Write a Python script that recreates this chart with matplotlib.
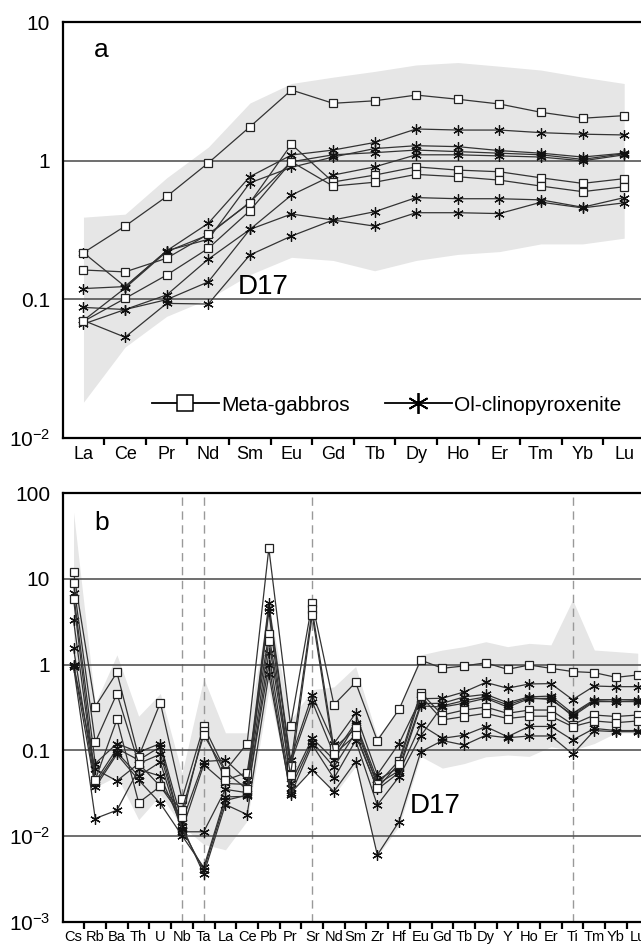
import matplotlib
matplotlib.use('Agg')
import matplotlib.pyplot as plt
import numpy as np

plt.rcParams['font.family'] = ['Liberation Sans', 'DejaVu Sans']
plt.rcParams['mathtext.fontset'] = 'custom'
plt.rcParams['mathtext.rm'] = 'Liberation Sans'
plt.rcParams['mathtext.it'] = 'Liberation Sans:italic'

# ---- panel a: REE ----
ree = ['La', 'Ce', 'Pr', 'Nd', 'Sm', 'Eu', 'Gd', 'Tb', 'Dy', 'Ho', 'Er', 'Tm', 'Yb', 'Lu']

ree_gabbro = [
  [0.216, 0.336, 0.55, 0.96, 1.75, 3.23, 2.59, 2.70, 2.97, 2.77, 2.56, 2.23, 2.02, 2.11],
  [0.162, 0.157, 0.197, 0.294, 0.495, 1.31, 0.70, 0.785, 0.90, 0.853, 0.83, 0.75, 0.684, 0.74],
  [0.069, 0.101, 0.149, 0.232, 0.434, 0.98, 0.654, 0.697, 0.794, 0.764, 0.722, 0.654, 0.596, 0.647],
]
ree_pyrox = [
  [0.216, 0.123, 0.223, 0.352, 0.765, 1.096, 1.19, 1.35, 1.69, 1.66, 1.66, 1.59, 1.55, 1.53],
  [0.119, 0.123, 0.223, 0.27, 0.69, 0.893, 1.06, 1.22, 1.28, 1.26, 1.18, 1.13, 1.06, 1.13],
  [0.07, 0.12, 0.22, 0.29, 0.50, 0.98, 1.10, 1.14, 1.19, 1.16, 1.13, 1.10, 1.02, 1.12],
  [0.087, 0.084, 0.107, 0.194, 0.318, 0.563, 0.785, 0.90, 1.10, 1.10, 1.08, 1.06, 0.995, 1.10],
  [0.066, 0.084, 0.099, 0.133, 0.318, 0.411, 0.372, 0.336, 0.42, 0.42, 0.414, 0.50, 0.455, 0.495],
  [0.07, 0.053, 0.093, 0.092, 0.208, 0.285, 0.372, 0.427, 0.54, 0.53, 0.53, 0.52, 0.46, 0.54],
]
ree_d17_low = [0.018, 0.045, 0.075, 0.10, 0.15, 0.20, 0.19, 0.16, 0.19, 0.21, 0.22, 0.25, 0.25, 0.275]
ree_d17_high = [0.39, 0.41, 0.75, 1.25, 2.6, 3.6, 4.0, 4.4, 4.9, 5.1, 4.8, 4.5, 4.0, 3.6]

# ---- panel b: spider ----
spider = ['Cs', 'Rb', 'Ba', 'Th', 'U', 'Nb', 'Ta', 'La', 'Ce', 'Pb', 'Pr', 'Sr', 'Nd', 'Sm',
          'Zr', 'Hf', 'Eu', 'Gd', 'Tb', 'Dy', 'Y', 'Ho', 'Er', 'Ti', 'Tm', 'Yb', 'Lu']

sp_gabbro = [
  [12, 0.324, 0.81, 0.084, 0.36, 0.027, 0.192, 0.058, 0.12, 22.8, 0.194, 5.3, 0.34, 0.62,
   0.13, 0.30, 1.13, 0.906, 0.965, 1.05, 0.88, 0.99, 0.905, 0.83, 0.806, 0.71, 0.757],
  [8.9, 0.124, 0.46, 0.07, 0.038, 0.0167, 0.17, 0.045, 0.055, 2.27, 0.066, 4.4, 0.105, 0.18,
   0.04, 0.076, 0.47, 0.258, 0.295, 0.32, 0.27, 0.295, 0.295, 0.20, 0.258, 0.248, 0.258],
  [5.9, 0.045, 0.23, 0.0245, 0.038, 0.02, 0.151, 0.056, 0.035, 1.87, 0.0515, 3.8, 0.09, 0.15,
   0.036, 0.07, 0.43, 0.226, 0.248, 0.27, 0.235, 0.25, 0.25, 0.189, 0.22, 0.21, 0.22],
]
sp_pyrox = [
  [6.8, 0.070, 0.12, 0.095, 0.12, 0.0147, 0.074, 0.077, 0.045, 5.2, 0.078, 0.44, 0.12, 0.27,
   0.052, 0.12, 0.40, 0.405, 0.48, 0.62, 0.53, 0.595, 0.60, 0.39, 0.563, 0.553, 0.553],
  [3.3, 0.043, 0.105, 0.077, 0.11, 0.0117, 0.068, 0.041, 0.040, 4.6, 0.070, 0.37, 0.09, 0.21,
   0.045, 0.063, 0.35, 0.354, 0.42, 0.45, 0.36, 0.42, 0.43, 0.27, 0.39, 0.39, 0.39],
  [1.55, 0.040, 0.095, 0.050, 0.073, 0.0112, 0.0112, 0.035, 0.032, 4.2, 0.041, 0.138, 0.078, 0.20,
   0.040, 0.058, 0.33, 0.32, 0.354, 0.405, 0.32, 0.40, 0.405, 0.25, 0.37, 0.37, 0.38],
  [1.0, 0.037, 0.090, 0.045, 0.024, 0.0101, 0.0043, 0.0286, 0.029, 1.36, 0.036, 0.125, 0.064, 0.16,
   0.035, 0.055, 0.198, 0.138, 0.15, 0.189, 0.144, 0.19, 0.19, 0.132, 0.18, 0.17, 0.17],
  [0.95, 0.016, 0.020, 0.060, 0.05, 0.013, 0.0036, 0.0233, 0.0178, 0.77, 0.0315, 0.059, 0.033, 0.074,
   0.006, 0.0147, 0.096, 0.13, 0.115, 0.15, 0.14, 0.147, 0.147, 0.0906, 0.17, 0.165, 0.165],
  [1.0, 0.06, 0.044, 0.07, 0.09, 0.012, 0.004, 0.026, 0.03, 1.0, 0.03, 0.116, 0.047, 0.13,
   0.023, 0.049, 0.147, 0.33, 0.38, 0.42, 0.34, 0.41, 0.39, 0.26, 0.38, 0.37, 0.37],
]
sp_d17_low = [1.0, 0.037, 0.05, 0.0155, 0.03, 0.013, 0.008, 0.0069, 0.015, 0.5, 0.032, 0.065, 0.03, 0.065,
              0.0058, 0.013, 0.085, 0.062, 0.07, 0.084, 0.088, 0.085, 0.11, 0.10, 0.12, 0.16, 0.16]
sp_d17_high = [60, 0.35, 1.3, 0.25, 0.46, 0.054, 0.69, 0.16, 0.16, 5.0, 0.226, 0.51, 0.55, 0.95,
               0.144, 0.3, 1.3, 1.48, 1.62, 1.85, 1.62, 1.77, 1.7, 5.7, 1.48, 1.42, 1.36]
dashed_at = ['Nb', 'Ta', 'Sr', 'Ti']

line_col = '#333333'
sq_kw = dict(marker='s', ms=6, mfc='white', mec='#222222', mew=0.9, color=line_col, lw=0.9)
st_kw = dict(marker=(6, 2, 0), ms=7.5, mec='#111111', mew=0.9, color=line_col, lw=0.9)

fig = plt.figure(figsize=(6.41, 9.46), dpi=100)
ax1 = fig.add_axes([0.0978, 0.5375, 0.9084, 0.4392])
ax2 = fig.add_axes([0.0978, 0.0257, 0.914, 0.4529])


def style_axes(ax, names, ylim, yt, ylab, xfs):
  n = len(names)
  x = np.arange(n)
  ax.set_yscale('log')
  ax.set_ylim(*ylim)
  ax.set_xlim(-0.5, n - 0.5)
  ax.set_yticks(yt)
  ax.set_yticklabels(ylab, fontsize=15)
  ax.yaxis.set_minor_locator(matplotlib.ticker.NullLocator())
  ax.tick_params(axis='y', length=0, pad=9)
  ax.set_xticks(x)
  ax.set_xticklabels(names, fontsize=xfs)
  ax.set_xticks(x[:-1] + 0.5, minor=True)
  ax.tick_params(axis='x', which='major', length=0, pad=6)
  ax.tick_params(axis='x', which='minor', length=5, width=1.6, direction='out')
  for s in ['left', 'bottom', 'top']:
    ax.spines[s].set_linewidth(1.6)
  ax.spines['right'].set_visible(False)
  for v in yt[1:-1]:
    ax.axhline(v, color='#555555', lw=1.2, zorder=1)


# panel a
x1 = np.arange(len(ree))
style_axes(ax1, ree, (0.01, 10), [0.01, 0.1, 1, 10], ['10$^{-2}$', '0.1', '1', '10'], 13)
ax1.fill_between(x1, ree_d17_low, ree_d17_high, color='#e6e6e6', lw=0, zorder=0)
for s in ree_pyrox:
  ax1.plot(x1, s, zorder=3, **st_kw)
for s in ree_gabbro:
  ax1.plot(x1, s, zorder=4, **sq_kw)
ax1.text(0.066, 0.933, 'a', transform=ax1.transAxes, fontsize=19, ha='center', va='center')
ax1.text(0.344, 0.362, 'D17', transform=ax1.transAxes, fontsize=20, ha='center', va='center')

h1, = ax1.plot([], [], marker='s', ms=11, mfc='white', mec='black', mew=1.1, color='black', lw=1.3)
h2, = ax1.plot([], [], marker=(6, 2, 0), ms=15, mec='black', mew=1.3, color='black', lw=1.3)
ax1.legend([h1, h2], ['Meta-gabbros', 'Ol-clinopyroxenite'], loc='center',
           bbox_to_anchor=(0.556, 0.078), ncol=2, frameon=False, fontsize=15,
           handlelength=3.2, handletextpad=0.1, columnspacing=1.7, numpoints=1)

# panel b
x2 = np.arange(len(spider))
style_axes(ax2, spider, (0.001, 100), [0.001, 0.01, 0.1, 1, 10, 100],
           ['10$^{-3}$', '10$^{-2}$', '0.1', '1', '10', '100'], 10.5)
ax2.fill_between(x2, sp_d17_low, sp_d17_high, color='#e6e6e6', lw=0, zorder=0)
for el in dashed_at:
  ax2.axvline(spider.index(el), color='#999999', lw=1.0, ls=(0, (6, 4)), zorder=0.5)
for s in sp_pyrox:
  ax2.plot(x2, s, zorder=3, **st_kw)
for s in sp_gabbro:
  ax2.plot(x2, s, zorder=4, **sq_kw)
ax2.text(0.067, 0.931, 'b', transform=ax2.transAxes, fontsize=19, ha='center', va='center')
ax2.text(0.636, 0.270, 'D17', transform=ax2.transAxes, fontsize=20, ha='center', va='center')

fig.savefig('out.png', dpi=100)
